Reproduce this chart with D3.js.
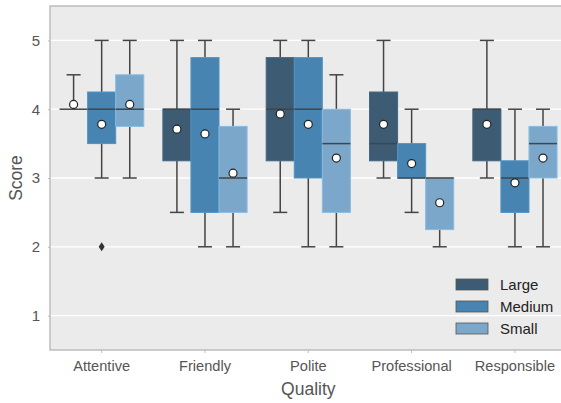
<!DOCTYPE html>
<html lang="en">
<head>
<meta charset="UTF-8">
<title>Score by Quality</title>
<script src="https://d3js.org/d3.v7.min.js"></script>
<style>
  body { margin: 0; background: #fff; }
  text { font-family: "Liberation Sans", Arial, sans-serif; }
</style>
</head>
<body>
<svg width="561" height="403"></svg>
<script>
// categories
const qualities = ["Attentive", "Friendly", "Polite", "Professional", "Responsible"];
const sizes = ["Large", "Medium", "Small"];
const yTicks = [1, 2, 3, 4, 5];

// box statistics, one row per quality, columns = Large, Medium, Small
const whiskerLow = [[4, 3, 3], [2.5, 2, 2], [2.5, 2, 2], [3, 2.5, 2], [3, 2, 2]];
const q1 = [[4, 3.5, 3.75], [3.25, 2.5, 2.5], [3.25, 3, 2.5], [3.25, 3, 2.25], [3.25, 2.5, 3]];
const median = [[4, 4, 4], [4, 4, 3], [4, 4, 3.5], [3.5, 3, 3], [4, 3, 3.5]];
const q3 = [[4, 4.25, 4.5], [4, 4.75, 3.75], [4.75, 4.75, 4], [4.25, 3.5, 3], [4, 3.25, 3.75]];
const whiskerHigh = [[4.5, 5, 5], [5, 5, 4], [5, 5, 4.5], [5, 4, 3], [5, 4, 4]];
const means = [[4.07, 3.78, 4.07], [3.71, 3.64, 3.07], [3.93, 3.78, 3.29], [3.78, 3.21, 2.64], [3.78, 2.93, 3.29]];
const outliers = [[[], [2], []], [[], [], []], [[], [], []], [[], [], []], [[], [], []]];

const colors = ["#3d5c74", "#4884b2", "#7ba8ca"];

const svg = d3.select("svg");
const plot = { left: 50, right: 566.6, top: 6, bottom: 350 };

const x = d3.scaleBand().domain(qualities).range([plot.left, plot.right]);
const xSize = d3.scaleBand().domain(sizes).range([0, x.bandwidth() * 0.815]);
const y = d3.scaleLinear().domain([0.5, 5.5]).range([plot.bottom, plot.top]);
const color = d3.scaleOrdinal().domain(sizes).range(colors);

// background
svg.append("rect")
  .attr("x", plot.left).attr("y", plot.top)
  .attr("width", plot.right - plot.left).attr("height", plot.bottom - plot.top)
  .attr("fill", "#ebebeb");

// grid
svg.append("g").selectAll("line")
  .data(yTicks)
  .join("line")
  .attr("x1", plot.left).attr("x2", plot.right)
  .attr("y1", d => y(d)).attr("y2", d => y(d))
  .attr("stroke", "#fff").attr("stroke-width", 1.3);

// spines
svg.append("path")
  .attr("d", `M${plot.right},${plot.top}H${plot.left}V${plot.bottom}H${plot.right}`)
  .attr("fill", "none").attr("stroke", "#bdbdbd").attr("stroke-width", 1.5);

// y axis
const yAxis = svg.append("g")
  .attr("transform", `translate(${plot.left},0)`)
  .call(d3.axisLeft(y).tickValues(yTicks).tickSize(2).tickPadding(8).tickFormat(d3.format("d")));
yAxis.select(".domain").remove();
yAxis.selectAll(".tick line").attr("stroke", "#bdbdbd");
yAxis.selectAll(".tick text").attr("fill", "#555").attr("font-size", 15);

// x axis
const xAxis = svg.append("g")
  .attr("transform", `translate(0,${plot.bottom})`)
  .call(d3.axisBottom(x).tickSize(3).tickPadding(8));
xAxis.select(".domain").remove();
xAxis.selectAll(".tick line").attr("stroke", "#bdbdbd");
xAxis.selectAll(".tick text").attr("fill", "#555").attr("font-size", 14.6);

// axis titles
svg.append("text")
  .attr("x", (plot.left + plot.right) / 2).attr("y", 395)
  .attr("text-anchor", "middle").attr("font-size", 17.5).attr("fill", "#555")
  .text("Quality");
svg.append("text")
  .attr("transform", `translate(22,${(plot.top + plot.bottom) / 2}) rotate(-90)`)
  .attr("text-anchor", "middle").attr("font-size", 17.5).attr("fill", "#555")
  .text("Score");

// boxes
const boxes = [];
qualities.forEach((q, i) => {
  sizes.forEach((s, j) => {
    boxes.push({
      quality: q, size: s,
      lo: whiskerLow[i][j], q1: q1[i][j], med: median[i][j], q3: q3[i][j],
      hi: whiskerHigh[i][j], mean: means[i][j], out: outliers[i][j]
    });
  });
});

const groupOffset = (x.bandwidth() - xSize.range()[1]) / 2;
const bx = d => x(d.quality) + groupOffset + xSize(d.size);
const bw = xSize.bandwidth();
const lineColor = "#444";

const g = svg.append("g");

const box = g.selectAll("g.box")
  .data(boxes)
  .join("g").attr("class", "box");

// whiskers
box.append("line")
  .attr("x1", d => bx(d) + bw / 2).attr("x2", d => bx(d) + bw / 2)
  .attr("y1", d => y(d.q3)).attr("y2", d => y(d.hi))
  .attr("stroke", lineColor).attr("stroke-width", 1.5);
box.append("line")
  .attr("x1", d => bx(d) + bw / 2).attr("x2", d => bx(d) + bw / 2)
  .attr("y1", d => y(d.q1)).attr("y2", d => y(d.lo))
  .attr("stroke", lineColor).attr("stroke-width", 1.5);
// caps
box.filter(d => d.hi > d.q3).append("line")
  .attr("x1", d => bx(d) + bw / 4).attr("x2", d => bx(d) + bw * 3 / 4)
  .attr("y1", d => y(d.hi)).attr("y2", d => y(d.hi))
  .attr("stroke", lineColor).attr("stroke-width", 1.5);
box.filter(d => d.lo < d.q1).append("line")
  .attr("x1", d => bx(d) + bw / 4).attr("x2", d => bx(d) + bw * 3 / 4)
  .attr("y1", d => y(d.lo)).attr("y2", d => y(d.lo))
  .attr("stroke", lineColor).attr("stroke-width", 1.5);

// box body
box.append("rect")
  .attr("x", d => bx(d)).attr("width", bw)
  .attr("y", d => y(d.q3)).attr("height", d => y(d.q1) - y(d.q3))
  .attr("fill", d => color(d.size))
  .attr("stroke", d => d3.color(color(d.size)).brighter(0.3))
  .attr("stroke-width", 1);

// median
box.append("line")
  .attr("x1", d => bx(d)).attr("x2", d => bx(d) + bw)
  .attr("y1", d => y(d.med)).attr("y2", d => y(d.med))
  .attr("stroke", lineColor).attr("stroke-width", 1.5);

// outliers
box.selectAll("path.out")
  .data(d => d.out.map(v => ({ v, d })))
  .join("path").attr("class", "out")
  .attr("d", o => {
    const cx = bx(o.d) + bw / 2, cy = y(o.v);
    return `M${cx},${cy - 4.5}L${cx + 3},${cy}L${cx},${cy + 4.5}L${cx - 3},${cy}Z`;
  })
  .attr("fill", "#333");

// means
box.append("circle")
  .attr("cx", d => bx(d) + bw / 2).attr("cy", d => y(d.mean))
  .attr("r", 4)
  .attr("fill", "#fff").attr("stroke", "#222").attr("stroke-width", 1.2);

// legend
const legend = svg.append("g").attr("transform", "translate(456,279)");
const item = legend.selectAll("g")
  .data(sizes)
  .join("g")
  .attr("transform", (d, i) => `translate(0,${i * 22})`);
item.append("rect")
  .attr("width", 32).attr("height", 11)
  .attr("fill", d => color(d)).attr("stroke", "#555").attr("stroke-width", 0.8);
item.append("text")
  .attr("x", 44).attr("y", 11)
  .attr("font-size", 15).attr("fill", "#222")
  .text(d => d);
</script>
</body>
</html>
